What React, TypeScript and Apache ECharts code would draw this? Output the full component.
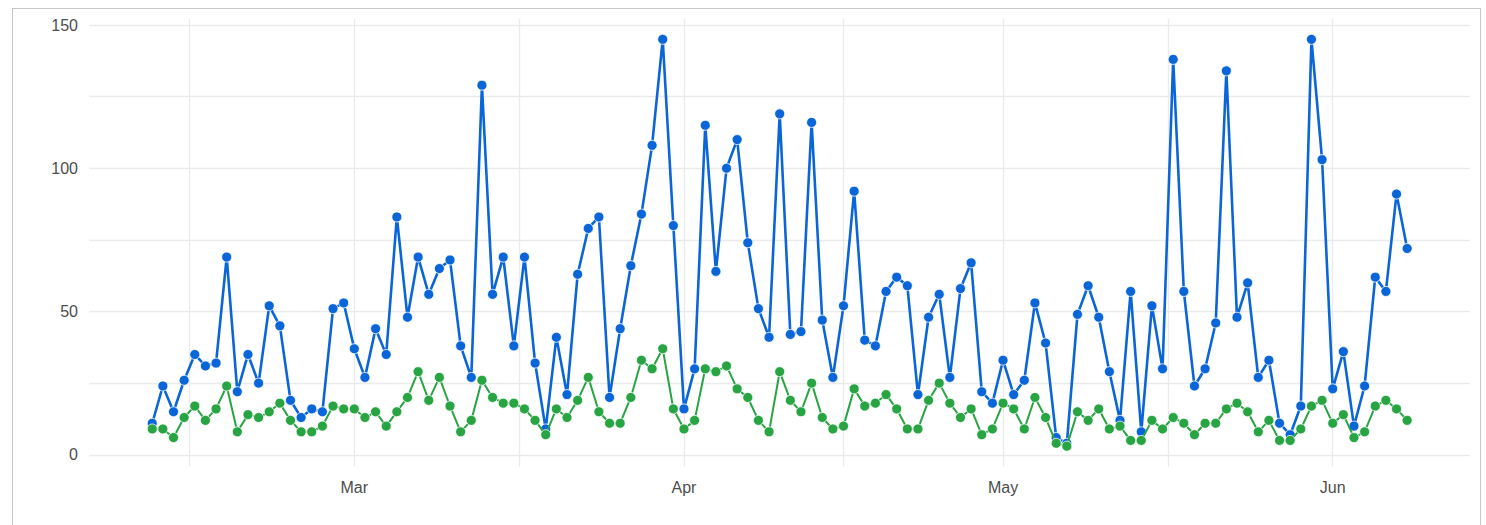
import React, { useEffect, useRef } from 'react';
import * as echarts from 'echarts';

// ---- data ----
const START_DATE = '2021-02-10';

const seriesBlue = [
  11, 24, 15, 26, 35, 31, 32, 69, 22, 35,
  25, 52, 45, 19, 13, 16, 15, 51, 53, 37,
  27, 44, 35, 83, 48, 69, 56, 65, 68, 38,
  27, 129, 56, 69, 38, 69, 32, 9, 41, 21,
  63, 79, 83, 20, 44, 66, 84, 108, 145, 80,
  16, 30, 115, 64, 100, 110, 74, 51, 41, 119,
  42, 43, 116, 47, 27, 52, 92, 40, 38, 57,
  62, 59, 21, 48, 56, 27, 58, 67, 22, 18,
  33, 21, 26, 53, 39, 6, 4, 49, 59, 48,
  29, 12, 57, 8, 52, 30, 138, 57, 24, 30,
  46, 134, 48, 60, 27, 33, 11, 7, 17, 145,
  103, 23, 36, 10, 24, 62, 57, 91, 72,
];

const seriesGreen = [
  9, 9, 6, 13, 17, 12, 16, 24, 8, 14,
  13, 15, 18, 12, 8, 8, 10, 17, 16, 16,
  13, 15, 10, 15, 20, 29, 19, 27, 17, 8,
  12, 26, 20, 18, 18, 16, 12, 7, 16, 13,
  19, 27, 15, 11, 11, 20, 33, 30, 37, 16,
  9, 12, 30, 29, 31, 23, 20, 12, 8, 29,
  19, 15, 25, 13, 9, 10, 23, 17, 18, 21,
  16, 9, 9, 19, 25, 18, 13, 16, 7, 9,
  18, 16, 9, 20, 13, 4, 3, 15, 12, 16,
  9, 10, 5, 5, 12, 9, 13, 11, 7, 11,
  11, 16, 18, 15, 8, 12, 5, 5, 9, 17,
  19, 11, 14, 6, 8, 17, 19, 16, 12,
];

const MONTH_BREAKS = ['2021-03-01', '2021-04-01', '2021-05-01', '2021-06-01'];
const MONTH_LABELS = ['Mar', 'Apr', 'May', 'Jun'];
const Y_BREAKS = [0, 50, 100, 150];
const Y_MINOR = [25, 75, 125];

// ---- helpers ----
const DAY = 86400000;
const ORIGIN = Date.parse(MONTH_BREAKS[0]);
const toDay = (iso: string) => (Date.parse(iso) - ORIGIN) / DAY;
const dates = seriesBlue.map((_, i) =>
  new Date(Date.parse(START_DATE) + i * DAY).toISOString().slice(0, 10)
);
const xs = dates.map(toDay);

const COLOR_BLUE = '#0a66d8';
const COLOR_GREEN = '#28a443';
const GRID_COLOR = '#ebebeb';
const TEXT_COLOR = '#4d4d4d';
const FONT = '"Liberation Sans", Arial, Helvetica, sans-serif';

export default function App() {
  const ref = useRef<HTMLDivElement>(null);

  useEffect(() => {
    if (!ref.current) return;
    const chart = echarts.init(ref.current, undefined, { renderer: 'svg' });

    // ggplot-like 5% expansion
    const xMinD = Math.min(...xs);
    const xMaxD = Math.max(...xs);
    const xPad = (xMaxD - xMinD) * 0.05;
    const xMin = xMinD - xPad;
    const xMax = xMaxD + xPad;
    const allVals = seriesBlue.concat(seriesGreen);
    const yMinD = Math.min(...allVals);
    const yMaxD = Math.max(...allVals);
    const yPad = (yMaxD - yMinD) * 0.05;
    const yMin = yMinD - yPad;
    const yMax = yMaxD + yPad;

    const majorX = MONTH_BREAKS.map(toDay);
    const step = majorX[1] - majorX[0];
    const ext = [majorX[0] - step, ...majorX, majorX[majorX.length - 1] + step];
    const minorX: number[] = [];
    for (let i = 0; i < ext.length - 1; i++) minorX.push((ext[i] + ext[i + 1]) / 2);
    const xGrid = majorX.concat(minorX).filter((v) => v >= xMin && v <= xMax).sort((a, b) => a - b);
    const yGrid = Y_BREAKS.concat(Y_MINOR).sort((a, b) => a - b);

    chart.setOption({
      animation: false,
      grid: { left: 76.5, top: 10, width: 1380.4, height: 447.5, containLabel: false },
      xAxis: {
        type: 'value',
        min: xMin,
        max: xMax,
        axisLine: { show: false },
        axisTick: { show: false, customValues: xGrid },
        axisLabel: {
          customValues: majorX,
          margin: 13,
          color: TEXT_COLOR,
          fontSize: 16,
          fontFamily: FONT,
          formatter: (v: number) => {
            const idx = majorX.findIndex((m) => Math.abs(m - v) < 0.01);
            return idx >= 0 ? MONTH_LABELS[idx] : '';
          },
        },
        splitLine: { show: true, lineStyle: { color: GRID_COLOR, width: 1.3 } },
      },
      yAxis: {
        type: 'value',
        min: yMin,
        max: yMax,
        axisLine: { show: false },
        axisTick: { show: false, customValues: yGrid },
        axisLabel: {
          customValues: Y_BREAKS,
          margin: 11.5,
          color: TEXT_COLOR,
          fontSize: 16,
          fontFamily: FONT,
        },
        splitLine: { show: true, lineStyle: { color: GRID_COLOR, width: 1.3 } },
      },
      series: [
        {
          type: 'line',
          data: xs.map((x, i) => [x, seriesBlue[i]]),
          symbol: 'circle',
          symbolSize: 10,
          showSymbol: true,
          lineStyle: { color: COLOR_BLUE, width: 2.6 },
          itemStyle: { color: COLOR_BLUE, borderColor: '#ffffff', borderWidth: 0.8 },
          z: 2,
        },
        {
          type: 'line',
          data: xs.map((x, i) => [x, seriesGreen[i]]),
          symbol: 'circle',
          symbolSize: 10,
          showSymbol: true,
          lineStyle: { color: COLOR_GREEN, width: 2 },
          itemStyle: { color: COLOR_GREEN, borderColor: '#ffffff', borderWidth: 0.8 },
          z: 3,
        },
      ],
    });

    return () => chart.dispose();
  }, []);

  return (
    <div
      style={{
        position: 'fixed',
        left: 12,
        top: 8,
        width: 1469,
        height: 530,
        boxSizing: 'border-box',
        borderTop: '1px solid #c8c8c8',
        borderLeft: '1px solid #c8c8c8',
        borderRight: '1px solid #c8c8c8',
        background: '#ffffff',
      }}
    >
      <div ref={ref} style={{ width: 1467, height: 520 }} />
    </div>
  );
}
